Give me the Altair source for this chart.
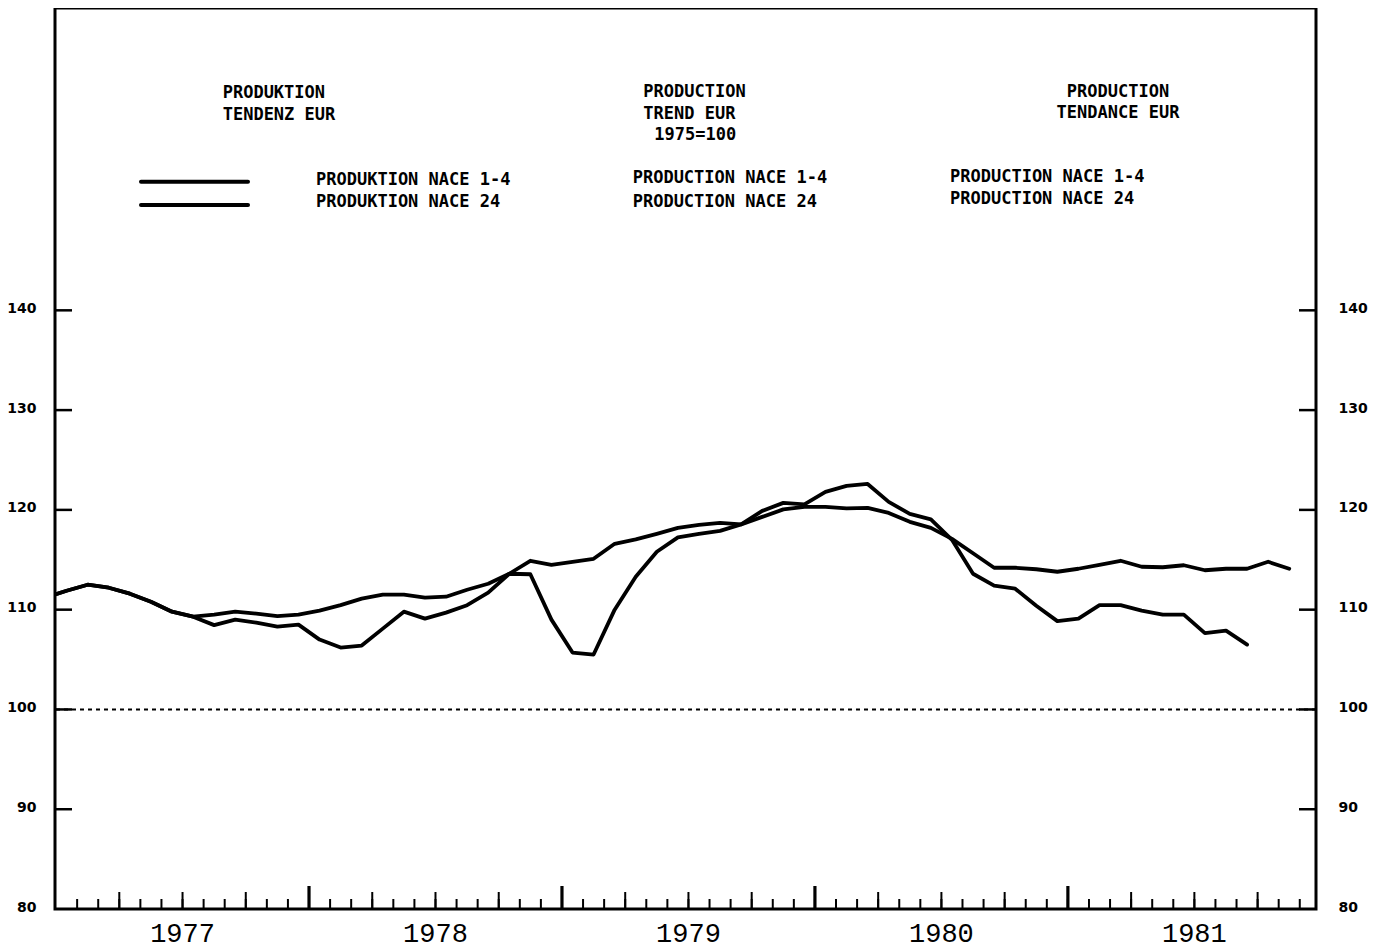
import altair as alt
import pandas as pd

# ---------------- data ----------------
# month index k: 0 = Jan 1977; points plotted at mid-month (k + 0.5)
months = [k + 0.5 for k in range(-1, 59)]  # Dec 1976 .. Nov 1981

nace_1_4 = [
    111.2, 111.9, 112.5, 112.2, 111.6, 110.8, 109.8, 109.3, 109.5, 109.8, 109.6, 109.35, 109.5,
    109.9, 110.45, 111.1, 111.5, 111.5, 111.2, 111.3, 112.0, 112.6, 113.6, 114.9, 114.5,
    114.8, 115.1, 116.6, 117.05, 117.6, 118.2, 118.5, 118.7, 118.55, 119.3, 120.05, 120.3,
    120.3, 120.15, 120.2, 119.7, 118.8, 118.2, 117.1, 115.65, 114.2, 114.2, 114.05, 113.8,
    114.1, 114.5, 114.9, 114.3, 114.25, 114.45, 113.95, 114.1, 114.1, 114.8, 114.1,
]

nace_24 = [
    111.2, 111.9, 112.5, 112.2, 111.6, 110.8, 109.8, 109.3, 108.45, 109.0, 108.7, 108.3, 108.5,
    107.0, 106.2, 106.4, 108.1, 109.8, 109.1, 109.7, 110.45, 111.7, 113.6, 113.55, 109.0,
    105.7, 105.5, 110.0, 113.3, 115.8, 117.25, 117.6, 117.9, 118.55, 119.9, 120.7, 120.55,
    121.8, 122.4, 122.6, 120.8, 119.6, 119.05, 117.0, 113.6, 112.4, 112.1, 110.4, 108.85,
    109.1, 110.45, 110.45, 109.9, 109.5, 109.5, 107.65, 107.9, 106.5,
]

years = ["1977", "1978", "1979", "1980", "1981"]
year_centers = [6, 18, 30, 42, 54]
y_ticks = [80, 90, 100, 110, 120, 130, 140]
reference_level = [100]
month_ticks = list(range(1, 60))
quarter_ticks = [m for m in range(3, 60, 3) if m % 12 != 0]
year_ticks = [12, 24, 36, 48]

title_de = ["PRODUKTION", "TENDENZ EUR"]
title_en = ["PRODUCTION", "TREND EUR"]
base_note = ["1975=100"]
title_fr = ["PRODUCTION", "TENDANCE EUR"]
legend_de = ["PRODUKTION NACE 1-4", "PRODUKTION NACE 24"]
legend_en = ["PRODUCTION NACE 1-4", "PRODUCTION NACE 24"]
legend_fr = ["PRODUCTION NACE 1-4", "PRODUCTION NACE 24"]

# ---------------- layout ----------------
W, H = 1261, 901
xs = alt.Scale(domain=[-0.05, 59.77], nice=False, zero=False)
ys = alt.Scale(domain=[80, 170.3], nice=False, zero=False)

df = pd.concat([
    pd.DataFrame({"m": months[:len(nace_1_4)], "v": nace_1_4, "s": "NACE 1-4"}),
    pd.DataFrame({"m": months[:len(nace_24)], "v": nace_24, "s": "NACE 24"}),
])

YLAB = dict(ticks=False, domain=False, grid=False, title=None, values=y_ticks,
            labelFont="DejaVu Sans", labelFontWeight="bold", labelFontSize=14,
            labelColor="black", labelFlush=False, labelOffset=-2)

lines = alt.Chart(df).mark_line(
    clip=True, color="black", strokeWidth=3.8, strokeJoin="round", strokeCap="round"
).encode(
    x=alt.X("m:Q", scale=xs, axis=None),
    y=alt.Y("v:Q", scale=ys, axis=alt.Axis(orient="left", labelPadding=19, **YLAB)),
    detail="s:N",
)

dotted = alt.Chart(pd.DataFrame({"v": reference_level})).mark_rule(
    color="black", strokeWidth=2, strokeDash=[4, 4]
).encode(y=alt.Y("v:Q", scale=ys, axis=None))

ytick_df = pd.DataFrame({"v": y_ticks[1:]})
ticks_left = alt.Chart(ytick_df).mark_rule(color="black", strokeWidth=2.5).encode(
    y=alt.Y("v:Q", scale=ys, axis=None), x=alt.value(0), x2=alt.value(17))
ticks_right = alt.Chart(ytick_df).mark_rule(color="black", strokeWidth=2.5).encode(
    y=alt.Y("v:Q", scale=ys, axis=alt.Axis(orient="right", labelPadding=22, **YLAB)),
    x=alt.value(W - 17), x2=alt.value(W))


def xticks(vals, length, width):
    return alt.Chart(pd.DataFrame({"m": vals})).mark_rule(color="black", strokeWidth=width).encode(
        x=alt.X("m:Q", scale=xs, axis=None), y=alt.value(H), y2=alt.value(H - length))


mt = xticks(month_ticks, 10, 2)
qt = xticks(quarter_ticks, 17, 2)
yt = xticks(year_ticks, 23, 3.2)

year_labels = alt.Chart(pd.DataFrame({"m": year_centers, "t": years})).mark_text(
    font="Liberation Mono", fontSize=27, color="black", align="center", baseline="alphabetic"
).encode(x=alt.X("m:Q", scale=xs, axis=None), y=alt.value(H + 33), text="t:N")

legend_lines = [
    alt.Chart(pd.DataFrame({"s": [s]})).mark_rule(color="black", strokeWidth=4, strokeCap="round").encode(
        x=alt.value(86), x2=alt.value(193), y=alt.value(yy))
    for s, yy in zip(["NACE 1-4", "NACE 24"], [173.7, 197])
]

TXT = dict(align="left", baseline="alphabetic", font="DejaVu Sans Mono",
           fontSize=17, fontWeight="bold", color="black")


def text_block(lines_, x0, baselines, align="left"):
    out = []
    for t, b in zip(lines_, baselines):
        out.append(alt.Chart(pd.DataFrame({"t": [t]})).mark_text(**{**TXT, "align": align}).encode(
            text="t:N", x=alt.value(x0), y=alt.value(b)))
    return out


texts = []
texts += text_block(title_de, 222.7 - 55, [98.3 - 8, 120 - 8])
texts += text_block(title_en, 643.3 - 55, [96.7 - 8, 119.3 - 8])
texts += text_block(base_note, 654.3 - 55, [140 - 8])
texts += text_block(title_fr, 1118 - 55, [96.7 - 8, 118.3 - 8], align="center")
texts += text_block(legend_de, 316 - 55, [185 - 8, 206.7 - 8])
texts += text_block(legend_en, 632.7 - 55, [183.3 - 8, 206.7 - 8])
texts += text_block(legend_fr, 950 - 55, [181.7 - 8, 204 - 8])

chart = alt.layer(
    dotted, ticks_left, mt, qt, yt, lines, ticks_right, year_labels, *legend_lines, *texts
).resolve_axis(y="independent").properties(
    width=W, height=H, autosize="none", background="white",
    padding={"left": 47, "top": 0, "right": 58, "bottom": 42},
).configure_view(stroke="black", strokeWidth=3)

chart.save("out.html", embed_options={"renderer": "svg", "actions": False})
